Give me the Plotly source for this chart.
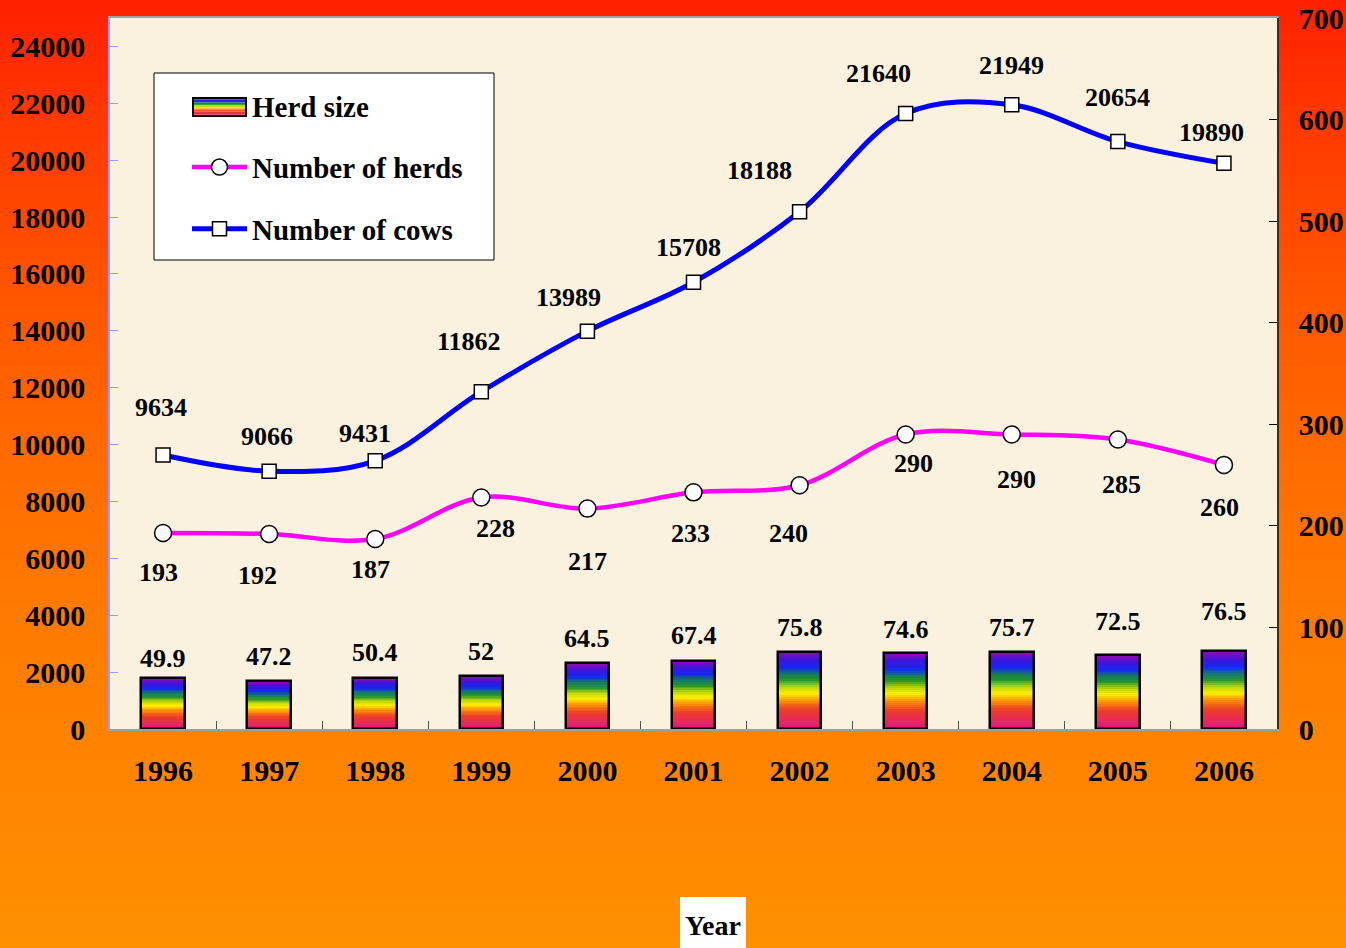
import plotly.graph_objects as go

# ---------------- data ----------------
years = ["1996", "1997", "1998", "1999", "2000", "2001", "2002", "2003", "2004", "2005", "2006"]
herd_size = [49.9, 47.2, 50.4, 52, 64.5, 67.4, 75.8, 74.6, 75.7, 72.5, 76.5]
num_herds = [193, 192, 187, 228, 217, 233, 240, 290, 290, 285, 260]
num_cows = [9634, 9066, 9431, 11862, 13989, 15708, 18188, 21640, 21949, 20654, 19890]

# label offsets (pixels) for readability, matching the reference layout
cow_lbl_dx = [-2, -2, -10, -12, -19, -5, -40, -27, 0, 0, -12]
cow_lbl_dy = [48, 35, 27, 50, 34, 35, 41, 40, 39, 44, 31]
herd_lbl_dx = [-5, -12, -5, 14, 0, -3, -11, 8, 5, 4, -4]
herd_lbl_dy = [-40, -42, -30, -31, -53, -41, -48, -29, -45, -45, -43]
bar_lbl_dy = [20, 25, 25, 25, 25, 25, 25, 24, 25, 34, 40]

# ---------------- geometry (px) ----------------
W, H = 1346, 948
L, R, T, B = 110, 69, 18, 219
PW, PH = W - L - R, H - T - B


def px2paper(x, y):
    return (x - L) / PW, (H - B - y) / PH


def lerp(c1, c2, t):
    return tuple(round(a + (b - a) * t) for a, b in zip(c1, c2))


def interp_stops(stops, v):
    for (p0, c0), (p1, c1) in zip(stops[:-1], stops[1:]):
        if p0 <= v <= p1:
            return lerp(c0, c1, (v - p0) / (p1 - p0) if p1 > p0 else 0)
    return stops[-1][1]


def rgb(c):
    return "rgb(%d,%d,%d)" % c


fig = go.Figure()

# ---------------- rainbow bars (bands) ----------------
rainbow = [
    (0.00, (220, 20, 140)),
    (0.12, (232, 40, 90)),
    (0.25, (236, 60, 40)),
    (0.37, (250, 140, 10)),
    (0.47, (255, 240, 0)),
    (0.55, (190, 215, 10)),
    (0.64, (40, 150, 40)),
    (0.72, (20, 120, 110)),
    (0.80, (20, 40, 240)),
    (0.90, (60, 20, 220)),
    (1.00, (145, 10, 180)),
]
N = 40
bar_w = 0.41
for k in range(N):
    c = interp_stops(rainbow, (k + 0.5) / N)
    fig.add_trace(go.Bar(
        x=years, y=[v / N for v in herd_size], base=[v * k / N for v in herd_size],
        width=bar_w, yaxis="y2", marker=dict(color=rgb(c), line=dict(width=0)),
        showlegend=False, hoverinfo="skip"))

# outline of the bars
fig.add_trace(go.Bar(
    x=years, y=herd_size, width=bar_w, yaxis="y2", name="Herd size",
    marker=dict(color="rgba(0,0,0,0)", line=dict(color="black", width=2.5)),
    showlegend=False))
# legend proxy for the bars (symbol drawn as rainbow swatch below)
fig.add_trace(go.Bar(
    x=[None], y=[None], yaxis="y2", name="Herd size",
    marker=dict(color="rgba(0,0,0,0)", line=dict(width=0)),
    legendgroup="a", hoverinfo="skip"))

# ---------------- lines ----------------
fig.add_trace(go.Scatter(
    x=years, y=num_herds, yaxis="y2", name="Number of herds", mode="lines+markers",
    line=dict(color="#FF00FF", width=4.5, shape="spline", smoothing=1.0),
    marker=dict(symbol="circle", size=17, color="white", line=dict(color="black", width=1.5)),
    legendgroup="b"))
fig.add_trace(go.Scatter(
    x=years, y=num_cows, yaxis="y", name="Number of cows", mode="lines+markers",
    line=dict(color="#0000FF", width=5, shape="spline", smoothing=1.0),
    marker=dict(symbol="square", size=14, color="white", line=dict(color="black", width=1.5)),
    legendgroup="c"))

serif = "Liberation Serif"
lbl_font = dict(family=serif, size=26, color="black", weight="bold")
ann = []
for i, yr in enumerate(years):
    ann.append(dict(x=i, y=num_cows[i], xref="x", yref="y", text=str(num_cows[i]), showarrow=False,
                    xshift=cow_lbl_dx[i], yshift=cow_lbl_dy[i], font=lbl_font))
    ann.append(dict(x=i, y=num_herds[i], xref="x", yref="y2", text=str(num_herds[i]), showarrow=False,
                    xshift=herd_lbl_dx[i], yshift=herd_lbl_dy[i], font=lbl_font))
    ann.append(dict(x=i, y=herd_size[i], xref="x", yref="y2", text="%g" % herd_size[i], showarrow=False,
                    yshift=bar_lbl_dy[i], font=lbl_font))

shapes = []

# background gradient bands
stops = [(0, (255, 32, 0)), (150, (255, 62, 0)), (300, (255, 86, 0)), (450, (255, 106, 0)),
         (600, (255, 121, 0)), (750, (255, 131, 0)), (948, (255, 144, 0))]
nb = 80
for k in range(nb):
    y0p = H * k / nb - 1
    y1p = H * (k + 1) / nb + 1
    c = interp_stops(stops, (y0p + y1p) / 2)
    xa, ya = px2paper(-2, y0p)
    xb, yb = px2paper(W + 2, y1p)
    shapes.append(dict(type="rect", xref="paper", yref="paper", x0=xa, x1=xb, y0=yb, y1=ya,
                       fillcolor=rgb(c), line=dict(width=0), layer="below"))
# plot area background
shapes.append(dict(type="rect", xref="paper", yref="paper", x0=0, x1=1, y0=0, y1=1,
                   fillcolor="#FAF1DE", line=dict(width=0), layer="below"))

# "Year" title in white box
bx0, by0 = px2paper(680, 897)
bx1, by1 = px2paper(746, 960)
shapes.append(dict(type="rect", xref="paper", yref="paper", x0=bx0, x1=bx1, y0=by1, y1=by0,
                   fillcolor="white", line=dict(width=0), layer="above"))
ann.append(dict(x=(bx0 + bx1) / 2, y=px2paper(0, 925)[1], xref="paper", yref="paper",
                text="Year", showarrow=False, yanchor="middle",
                font=dict(family=serif, size=28, color="black", weight="bold")))

# legend box
lx0, ly0 = px2paper(154, 73)
lx1, ly1 = px2paper(494, 260)
shapes.append(dict(type="rect", xref="paper", yref="paper", x0=lx0, x1=lx1, y0=ly1, y1=ly0,
                   fillcolor="white", line=dict(color="black", width=1), layer="above"))
# rainbow swatch for the "Herd size" legend entry
sx0, sy0 = px2paper(193, 98)
sx1, sy1 = px2paper(246, 116)
ns = 12
for k in range(ns):
    c = interp_stops(rainbow, 1 - (k + 0.5) / ns)
    ya = sy0 + (sy1 - sy0) * k / ns
    yb = sy0 + (sy1 - sy0) * (k + 1) / ns
    shapes.append(dict(type="rect", xref="paper", yref="paper", x0=sx0, x1=sx1, y0=yb, y1=ya,
                       fillcolor=rgb(c), line=dict(width=0), layer="above"))
shapes.append(dict(type="rect", xref="paper", yref="paper", x0=sx0, x1=sx1, y0=sy1, y1=sy0,
                   fillcolor="rgba(0,0,0,0)", line=dict(color="black", width=2), layer="above"))

tick_font = dict(family=serif, size=30, color="black", weight="bold")

fig.update_layout(
    width=W, height=H,
    margin=dict(l=L, r=R, t=T, b=B, pad=0, autoexpand=False),
    paper_bgcolor="#FF8000",
    plot_bgcolor="#FAF1DE",
    barmode="overlay",
    bargap=0,
    showlegend=True,
    legend=dict(x=px2paper(187, 0)[0], y=px2paper(0, 80)[1], xanchor="left", yanchor="top",
                bgcolor="rgba(0,0,0,0)", borderwidth=0, traceorder="grouped", tracegroupgap=21,
                itemwidth=55, font=dict(family=serif, size=29, color="black", weight="bold")),
    xaxis=dict(type="category", range=[-0.5, 10.5], showline=True, linecolor="#A0A0A0", linewidth=1.5,
               mirror=True, ticks="inside", ticklen=8, tickcolor="#505050", tickson="boundaries",
               showgrid=False, zeroline=False, tickfont=tick_font, ticklabelstandoff=14,
               automargin=False),
    yaxis=dict(range=[0, 25000], tickvals=list(range(0, 24001, 2000)), tickformat="d", showline=True,
               linecolor="#9999FF", linewidth=1.5, ticks="inside", ticklen=8, tickcolor="#9999FF",
               showgrid=False, zeroline=False, tickfont=tick_font, ticklabelstandoff=17,
               automargin=False),
    yaxis2=dict(range=[0, 700], tickvals=list(range(0, 701, 100)), tickformat="d", overlaying="y",
                side="right", showline=True, linecolor="#303030", linewidth=1.5, ticks="inside",
                ticklen=8, tickcolor="black", showgrid=False, zeroline=False, tickfont=tick_font,
                ticklabelstandoff=14, automargin=False),
    annotations=ann,
    shapes=shapes,
)

fig.write_html("out.html", config={"displayModeBar": False},
               post_script="document.body.style.margin='0';document.body.style.overflow='hidden';")
